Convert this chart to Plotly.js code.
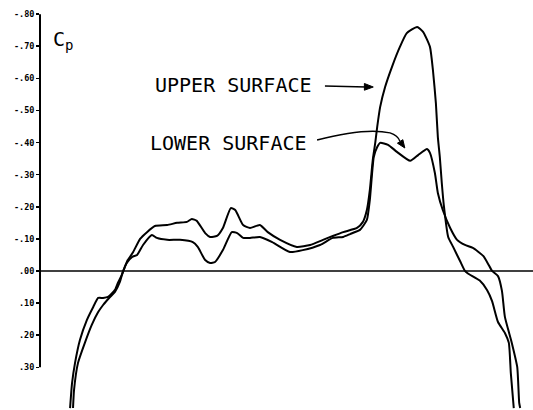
<!DOCTYPE html>
<html>
<head>
<meta charset="utf-8">
<script src="https://cdn.plot.ly/plotly-3.0.1.min.js"></script>
<style>html,body{margin:0;padding:0;background:#fff;}#chart{width:533px;height:410px;}</style>
</head>
<body>
<div id="chart"></div>
<script>
// Chordwise station (% of plotted span) and pressure coefficient
const upperX = [6.1,6.5,7.1,8.1,9.5,10.8,11.8,12.8,13.8,15.2,15.8,16.6,17.2,17.8,18.9,20.3,21.7,23.3,25.8,27.8,29.8,30.8,31.8,33.5,34.5,35.9,37.1,38.7,39.6,41.2,42.6,44.6,46.2,48.7,52.1,54.8,57.4,59.4,61.5,64.3,65.5,66.3,66.9,67.5,68.0,68.4,69.0,70.0,71.4,73.0,74.4,76.5,77.7,79.1,79.7,80.3,80.7,81.1,81.5,81.9,82.8,83.8,85.2,86.2,86.8,89.2,90.7,91.7,92.9,94.3,95.1,95.5,96.1];
const upperCp = [0.427,0.349,0.287,0.215,0.153,0.112,0.084,0.084,0.081,0.059,0.037,0.012,-0.012,-0.034,-0.059,-0.100,-0.121,-0.140,-0.143,-0.150,-0.153,-0.162,-0.156,-0.118,-0.106,-0.109,-0.134,-0.196,-0.190,-0.143,-0.134,-0.143,-0.121,-0.097,-0.075,-0.081,-0.097,-0.109,-0.121,-0.134,-0.153,-0.190,-0.252,-0.346,-0.399,-0.449,-0.511,-0.573,-0.636,-0.698,-0.741,-0.760,-0.745,-0.698,-0.626,-0.523,-0.417,-0.355,-0.274,-0.206,-0.106,-0.075,-0.031,0.000,0.008,0.030,0.060,0.094,0.159,0.193,0.224,0.318,0.427];

const lowerX = [6.7,6.9,7.7,9.1,10.5,11.8,12.8,14.2,15.2,16.2,16.8,17.6,18.7,19.7,20.9,22.7,23.7,25.8,28.4,31.0,32.0,33.5,34.5,35.5,37.1,38.9,40.0,41.2,42.6,44.6,47.1,50.7,53.3,56.8,59.4,61.5,62.9,64.9,66.3,66.9,67.7,68.4,69.0,70.6,72.4,75.1,76.7,78.5,79.1,80.1,80.7,81.7,83.2,84.6,86.2,87.8,89.9,90.9,91.7,92.9,93.7,94.3,95.7,96.8,97.2,97.4];
const lowerCp = [0.427,0.371,0.287,0.224,0.168,0.128,0.106,0.081,0.065,0.034,0.003,-0.025,-0.044,-0.050,-0.081,-0.112,-0.103,-0.097,-0.097,-0.090,-0.075,-0.034,-0.025,-0.028,-0.065,-0.121,-0.118,-0.103,-0.103,-0.106,-0.090,-0.059,-0.065,-0.081,-0.103,-0.106,-0.115,-0.128,-0.159,-0.221,-0.355,-0.386,-0.399,-0.393,-0.371,-0.343,-0.361,-0.380,-0.368,-0.305,-0.243,-0.190,-0.134,-0.097,-0.081,-0.072,-0.047,-0.022,0.000,0.016,0.062,0.143,0.224,0.299,0.411,0.427];

const tickVals = [-0.8,-0.7,-0.6,-0.5,-0.4,-0.3,-0.2,-0.1,0,0.1,0.2,0.3];
const tickText = ["-.80","-.70","-.60","-.50","-.40","-.30","-.20","-.10",".00",".10",".20",".30"];

const lineStyle = {color:'#000', width:2, shape:'spline', smoothing:0.5};
const traces = [
  {x: upperX, y: upperCp, mode:'lines', line: lineStyle, name:'UPPER SURFACE', hoverinfo:'skip'},
  {x: lowerX, y: lowerCp, mode:'lines', line: lineStyle, name:'LOWER SURFACE', hoverinfo:'skip'}
];

const mono = 'DejaVu Sans Mono';
const tickLabelAnns = tickVals.map((v, i) => ({
  xref:'paper', yref:'y', x:0, y:v, xanchor:'right', yanchor:'middle', xshift:-4,
  text:'<b>' + tickText[i] + '</b>', showarrow:false,
  font:{family:mono, size:8.5, color:'#000'}
}));

const layout = {
  width:533, height:410,
  margin:{l:40, r:0, t:0, b:0},
  paper_bgcolor:'#fff', plot_bgcolor:'#fff',
  showlegend:false,
  xaxis:{range:[0,100], visible:false, fixedrange:true},
  yaxis:{range:[0.433,-0.844], showgrid:false, zeroline:false, showline:false, automargin:false,
         tickmode:'array', tickvals:tickVals, showticklabels:false,
         ticks:'outside', ticklen:3, tickwidth:1.5, tickcolor:'#000'},
  shapes:[
    {type:'line', xref:'paper', x0:0, x1:0, yref:'y', y0:-0.8, y1:0.3, line:{color:'#000', width:2}},
    {type:'line', xref:'paper', x0:0, x1:1, yref:'y', y0:0, y1:0, line:{color:'#000', width:1.6}},
    // straight pointer to the upper-surface curve
    {type:'line', xref:'x', yref:'y', x0:57.8, y0:-0.576, x1:66.2, y1:-0.573, line:{color:'#000', width:1.5}},
    {type:'path', xref:'x', yref:'y', path:'M 67.6,-0.573 L 65.8,-0.584 L 65.8,-0.563 Z', fillcolor:'#000', line:{color:'#000', width:1}},
    // curved pointer to the lower-surface curve
    {type:'path', xref:'x', yref:'y', path:'M 56.2,-0.408 Q 66,-0.447 71,-0.43 Q 72.6,-0.422 73.0,-0.404', line:{color:'#000', width:1.4}},
    {type:'path', xref:'x', yref:'y', path:'M 74.0,-0.383 L 72.5,-0.398 L 73.6,-0.409 Z', fillcolor:'#000', line:{color:'#000', width:1}}
  ],
  annotations:[
    {xref:'x', yref:'y', x:39.3, y:-0.579, text:'UPPER SURFACE', showarrow:false, font:{family:mono, size:20, color:'#000'}},
    {xref:'x', yref:'y', x:38.2, y:-0.399, text:'LOWER SURFACE', showarrow:false, font:{family:mono, size:20, color:'#000'}},
    {xref:'x', yref:'y', x:4.6, y:-0.72, text:'C<sub>p</sub>', showarrow:false, font:{family:mono, size:20, color:'#000'}}
  ].concat(tickLabelAnns)
};
Plotly.newPlot('chart', traces, layout, {staticPlot:true, displayModeBar:false});
</script>
</body>
</html>
